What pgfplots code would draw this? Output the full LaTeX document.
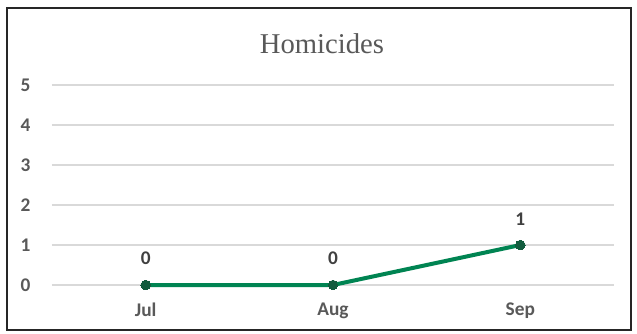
\documentclass[border=0pt]{standalone}
\usepackage{fontspec}
\setmainfont{Liberation Serif}
\newfontfamily\carlito{Carlito}
\usepackage{pgfplots}
\pgfplotsset{compat=1.18}
\definecolor{linegreen}{RGB}{0,132,82}
\definecolor{markgreen}{RGB}{18,92,62}
\definecolor{tickgray}{RGB}{89,89,89}
\definecolor{gridgray}{RGB}{217,217,217}
\begin{document}
\begin{tikzpicture}[x=0.75pt,y=0.75pt]
\useasboundingbox (0,0) rectangle (637,333);
\fill[white] (0,0) rectangle (637,333);
\draw[line width=1.5pt, black!85] (7,3) rectangle (631,325);
\node[anchor=base, font=\fontsize{21.5}{24}\selectfont, text=tickgray] at (322,280) {Homicides};
\begin{axis}[
  at={(39pt,36pt)}, anchor=south west,
  scale only axis, width=421.5pt, height=150pt,
  xmin=-0.5, xmax=2.5, ymin=0, ymax=5,
  xtick={0,1,2}, xticklabels={Jul,Aug,Sep},
  ytick={0,1,2,3,4,5},
  axis line style={draw=none},
  ymajorgrids, grid style={gridgray, line width=1pt},
  major tick length=0pt,
  /pgf/number format/assume math mode=true,
  tick label style={font=\carlito\bfseries\fontsize{14.5}{16}\selectfont, text=tickgray, inner sep=0pt},
  xticklabel style={anchor=north, yshift=-13pt},
  yticklabel style={anchor=east, xshift=-16pt},
  clip=false,
  nodes near coords,
  every node near coord/.append style={font=\carlito\bfseries\fontsize{14.5}{16}\selectfont, text=black!75, anchor=south, inner sep=0pt, yshift=15pt},
]
\addplot[linegreen, line width=3pt, mark=*, mark size=3.6pt, mark options={fill=markgreen, draw=markgreen, line width=0pt}]
  coordinates {(0,0) (1,0) (2,1)};
\end{axis}
\end{tikzpicture}
\end{document}
